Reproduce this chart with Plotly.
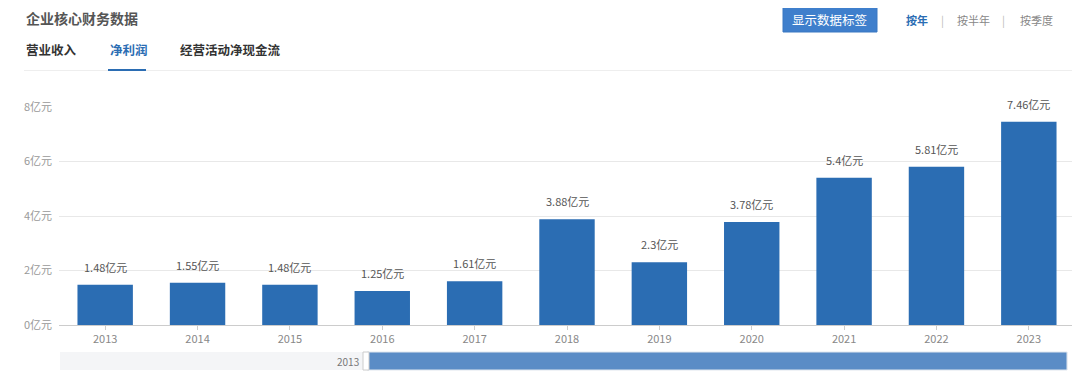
import plotly.graph_objects as go

years = ["2013", "2014", "2015", "2016", "2017", "2018", "2019", "2020", "2021", "2022", "2023"]
net_profit = [1.48, 1.55, 1.48, 1.25, 1.61, 3.88, 2.3, 3.78, 5.4, 5.81, 7.46]
labels = ["1.48亿元", "1.55亿元", "1.48亿元", "1.25亿元", "1.61亿元", "3.88亿元", "2.3亿元", "3.78亿元", "5.4亿元", "5.81亿元", "7.46亿元"]
y_ticks = [0, 2, 4, 6, 8]
y_tick_text = ["0亿元", "2亿元", "4亿元", "6亿元", "8亿元"]

OFF = 8  # page body margin
W, H = 1080 - OFF, 382 - OFF
ML = 59 - OFF
MT = 107 - OFF
MB = H - (325 - OFF)
MR = W - (1075 - OFF)
PW = W - ML - MR
PH = H - MT - MB

def px(x):
    return (x - OFF - ML) / PW

def py(y):
    return (H - MB - (y - OFF)) / PH

FONT = "Noto Sans CJK SC"

fig = go.Figure()
fig.add_trace(go.Bar(
    x=years, y=net_profit,
    marker=dict(color="#2b6db3", line=dict(width=0)),
    width=0.6,
))

shapes = []
annotations = []

# data labels above the bars (category index positions)
for i, (v, lab) in enumerate(zip(net_profit, labels)):
    annotations.append(dict(x=i, y=v, xref="x", yref="y", text=lab, showarrow=False,
                            xanchor="center", yanchor="bottom", yshift=8,
                            font=dict(size=11, color="#555555", family=FONT)))

annotations.append(dict(x=px(24), y=py(18), xref="paper", yref="paper", text="<b>企业核心财务数据</b>",
                        showarrow=False, xanchor="left", yanchor="middle",
                        font=dict(size=14, color="#555555", family=FONT)))
for t, x, col in [("<b>营业收入</b>", 24, "#333333"), ("<b>净利润</b>", 108, "#2b6db3"), ("<b>经营活动净现金流</b>", 178, "#333333")]:
    annotations.append(dict(x=px(x), y=py(50), xref="paper", yref="paper", text=t, showarrow=False,
                            xanchor="left", yanchor="middle", font=dict(size=12.5, color=col, family=FONT)))
shapes.append(dict(type="line", xref="paper", yref="paper", x0=px(24), x1=px(1075), y0=py(70.5), y1=py(70.5),
                   line=dict(color="#eeeeee", width=1)))
shapes.append(dict(type="line", xref="paper", yref="paper", x0=px(108), x1=px(146), y0=py(70), y1=py(70),
                   line=dict(color="#2b6db3", width=2)))
shapes.append(dict(type="rect", xref="paper", yref="paper", x0=px(783), x1=px(877), y0=py(7), y1=py(32),
                   fillcolor="#3f7fcc", line=dict(color="#3a78c2", width=1)))
annotations.append(dict(x=px(830), y=py(19.5), xref="paper", yref="paper", text="显示数据标签", showarrow=False,
                        xanchor="center", yanchor="middle", font=dict(size=12.5, color="#ffffff", family=FONT)))
for t, x, col in [("<b>按年</b>", 917, "#2b6db3"), ("|", 942, "#bbbbbb"), ("按半年", 973, "#888888"),
                  ("|", 1003, "#bbbbbb"), ("按季度", 1036, "#888888")]:
    annotations.append(dict(x=px(x), y=py(20), xref="paper", yref="paper", text=t, showarrow=False,
                            xanchor="center", yanchor="middle", font=dict(size=11, color=col, family=FONT)))

# slider
shapes.append(dict(type="rect", xref="paper", yref="paper", x0=px(60), x1=px(1068), y0=py(352), y1=py(370),
                   fillcolor="#f4f5f7", line=dict(width=0), layer="below"))
shapes.append(dict(type="rect", xref="paper", yref="paper", x0=px(367), x1=px(1067), y0=py(352), y1=py(370),
                   fillcolor="#5a8cc6", line=dict(color="#dfe6ee", width=1)))
shapes.append(dict(type="rect", xref="paper", yref="paper", x0=px(363), x1=px(369), y0=py(352), y1=py(370),
                   fillcolor="#ffffff", line=dict(color="#cccccc", width=1)))
annotations.append(dict(x=px(361), y=py(361), xref="paper", yref="paper", text="2013", showarrow=False,
                        xanchor="right", yanchor="middle", font=dict(size=10, color="#777777", family=FONT)))

fig.update_layout(
    width=W, height=H,
    margin=dict(l=ML, r=MR, t=MT, b=MB),
    paper_bgcolor="#ffffff", plot_bgcolor="#ffffff",
    showlegend=False,
    font=dict(family=FONT),
    xaxis=dict(type="category", range=[-0.5, len(years) - 0.5], showgrid=False, showline=True,
               linecolor="#cccccc", ticks="outside", ticklen=4,
               tickcolor="#cccccc", tickfont=dict(size=11, color="#888888", family=FONT)),
    yaxis=dict(range=[0, 8], tickvals=y_ticks, ticktext=y_tick_text, showgrid=True, gridcolor="#e8e8e8",
               zeroline=False, showline=False, ticks="", ticklabelstandoff=6,
               tickfont=dict(size=11, color="#999999", family=FONT)),
    shapes=shapes, annotations=annotations,
)

fig.write_html("out.html")
